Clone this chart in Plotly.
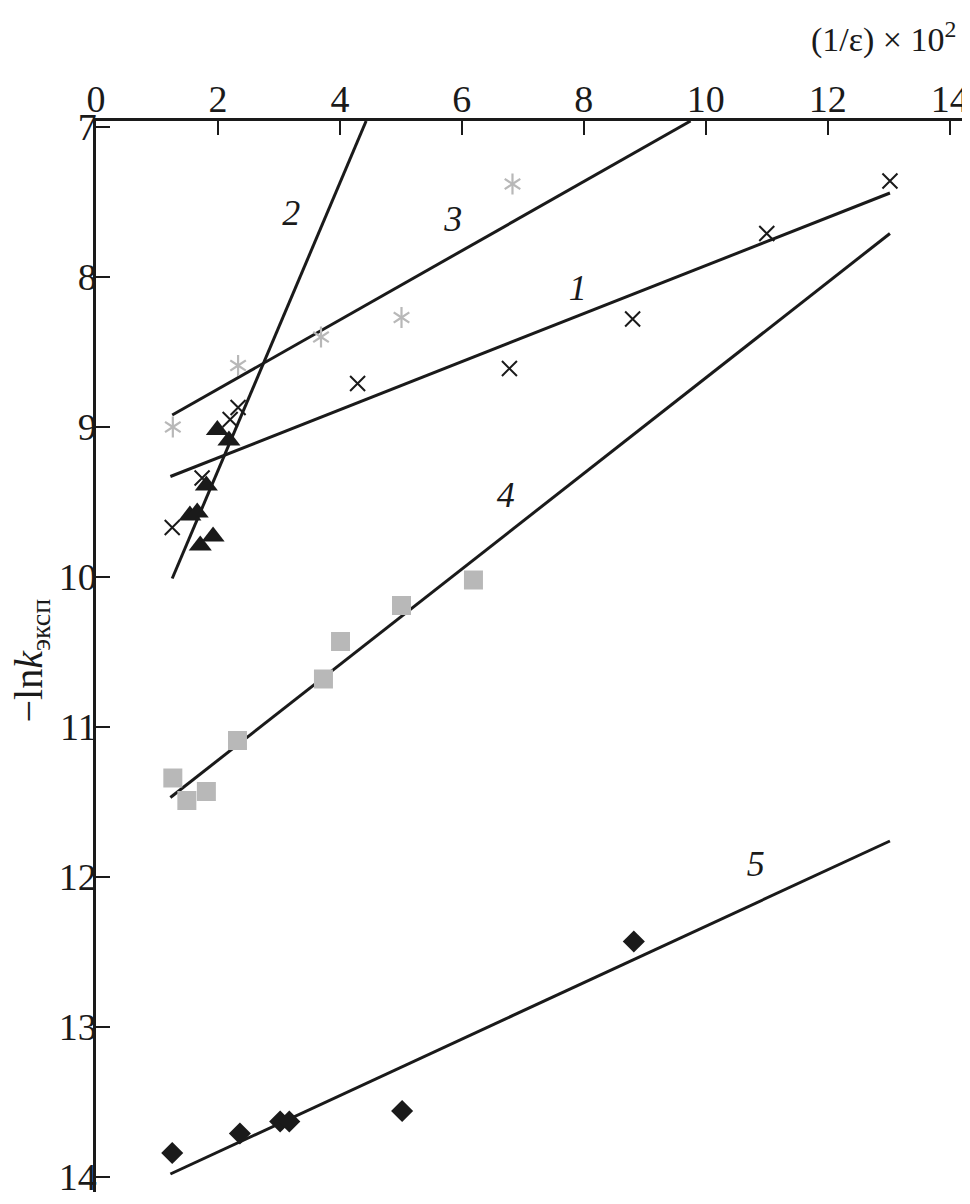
import plotly.graph_objects as go

# Series 1 (black crosses)
s1_x = [1.25, 1.74, 2.2, 2.33, 4.29, 6.78, 8.8, 11.0, 13.02]
s1_y = [9.67, 9.34, 8.95, 8.87, 8.71, 8.61, 8.28, 7.71, 7.36]
fit1_x = [1.22, 13.02]
fit1_y = [9.33, 7.44]

# Series 2 (black triangles)
s2_x = [1.99, 2.18, 1.81, 1.54, 1.66, 1.71, 1.92]
s2_y = [9.02, 9.09, 9.39, 9.59, 9.57, 9.79, 9.73]
fit2_x = [1.25, 4.43]
fit2_y = [10.01, 6.96]

# Series 3 (gray asterisks)
s3_x = [1.26, 2.33, 3.69, 5.01, 6.83]
s3_y = [9.0, 8.59, 8.4, 8.27, 7.38]
fit3_x = [1.25, 9.75]
fit3_y = [8.92, 6.96]

# Series 4 (gray squares)
s4_x = [1.26, 1.49, 1.81, 2.32, 3.73, 4.01, 5.01, 6.19]
s4_y = [11.34, 11.49, 11.43, 11.09, 10.68, 10.43, 10.19, 10.02]
fit4_x = [1.22, 13.02]
fit4_y = [11.47, 7.71]

# Series 5 (black diamonds)
s5_x = [1.25, 2.36, 3.02, 3.17, 5.02, 8.82]
s5_y = [13.84, 13.71, 13.63, 13.63, 13.56, 12.43]
fit5_x = [1.22, 13.02]
fit5_y = [13.98, 11.76]

# Curve labels
lab_text = ["1", "2", "3", "4", "5"]
lab_x = [7.9, 3.2, 5.86, 6.72, 10.82]
lab_y = [8.09, 7.59, 7.63, 9.47, 11.93]

x_ticks = [0, 2, 4, 6, 8, 10, 12, 14]
y_ticks = [7, 8, 9, 10, 11, 12, 13, 14]

FONT = "Liberation Serif"
BLACK = "#1a1a1a"
GRAY = "#b8b8b8"
LW = 3

fig = go.Figure()

for fx, fy in [(fit1_x, fit1_y), (fit2_x, fit2_y), (fit3_x, fit3_y),
               (fit4_x, fit4_y), (fit5_x, fit5_y)]:
    fig.add_trace(go.Scatter(x=fx, y=fy, mode="lines",
                             line=dict(color=BLACK, width=LW),
                             showlegend=False, hoverinfo="skip"))

fig.add_trace(go.Scatter(x=s1_x, y=s1_y, mode="markers",
                         marker=dict(symbol="x-thin-open", size=15, color=BLACK,
                                     line=dict(color=BLACK, width=2)),
                         showlegend=False))
fig.add_trace(go.Scatter(x=s2_x, y=s2_y, mode="markers",
                         marker=dict(symbol="triangle-up", size=20, color=BLACK,
                                     line=dict(width=0)),
                         showlegend=False))
for sym in ["y-up-open", "y-down-open"]:
    fig.add_trace(go.Scatter(x=s3_x, y=s3_y, mode="markers",
                             marker=dict(symbol=sym, size=13, color=GRAY,
                                         line=dict(color=GRAY, width=2.2)),
                             showlegend=False))
fig.add_trace(go.Scatter(x=s4_x, y=s4_y, mode="markers",
                         marker=dict(symbol="square", size=19, color=GRAY,
                                     line=dict(width=0)),
                         showlegend=False))
fig.add_trace(go.Scatter(x=s5_x, y=s5_y, mode="markers",
                         marker=dict(symbol="diamond", size=17, color=BLACK,
                                     line=dict(width=0)),
                         showlegend=False))

fig.add_trace(go.Scatter(x=lab_x, y=lab_y, mode="text",
                         text=["<i>" + t + "</i>" for t in lab_text],
                         textfont=dict(family=FONT, size=36, color=BLACK),
                         showlegend=False, hoverinfo="skip"))

fig.update_layout(
    width=962, height=1188,
    margin=dict(l=88, r=2, t=113, b=4, autoexpand=False),
    paper_bgcolor="white", plot_bgcolor="white",
    font=dict(family=FONT, size=36, color=BLACK),
    xaxis=dict(range=[0, 14.3], side="top", tickvals=x_ticks,
               ticks="inside", ticklen=14, tickwidth=2, tickcolor=BLACK,
               showline=True, linewidth=2.5, linecolor=BLACK, mirror=False,
               showgrid=False, zeroline=False, automargin=False,
               ticklabelstandoff=-9, ticklabeloverflow="allow",
               tickfont=dict(family=FONT, size=38)),
    yaxis=dict(range=[14.1, 6.96], tickvals=y_ticks,
               ticks="inside", ticklen=14, tickwidth=2, tickcolor=BLACK,
               showline=True, linewidth=2.5, linecolor=BLACK, mirror=False,
               showgrid=False, zeroline=False, automargin=False,
               ticklabelstandoff=-11, ticklabeloverflow="allow",
               tickfont=dict(family=FONT, size=38)),
    annotations=[
        dict(text="(1/ε) × 10<sup>2</sup>", xref="paper", yref="paper",
             x=0.988, y=1.0, yshift=84, xanchor="right", yanchor="middle",
             showarrow=False, font=dict(family=FONT, size=34, color=BLACK)),
        dict(text="−ln<i>k</i><sub>эксп</sub>", xref="paper", yref="paper",
             x=0, y=0.5, xshift=-66, yshift=-4, textangle=-90,
             xanchor="center", yanchor="middle", showarrow=False,
             font=dict(family=FONT, size=40, color=BLACK)),
    ],
)

fig.write_html("out.html")
